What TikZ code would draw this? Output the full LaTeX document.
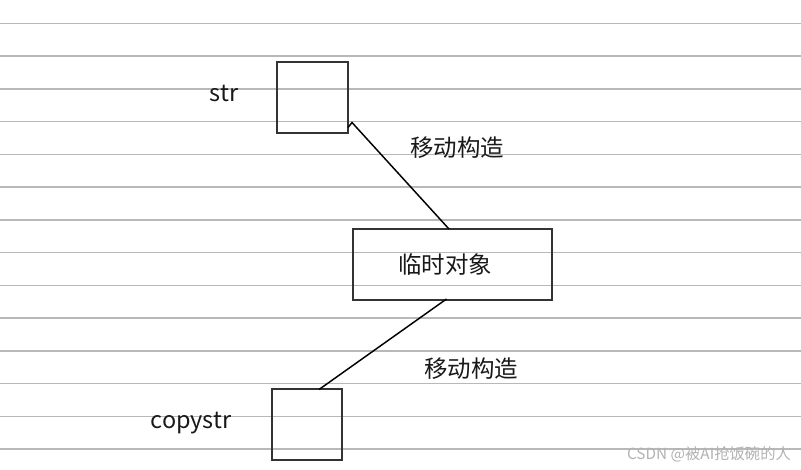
\documentclass[tikz,border=0pt]{standalone}
\usepackage{fontspec}
\setmainfont{Noto Sans CJK SC}
\usetikzlibrary{calc}
\begin{document}
\begin{tikzpicture}[x=0.75pt,y=-0.75pt,
  rule/.style={draw=black!28, line width=1.1pt},
  box/.style={draw=black!80, line width=1.5pt, inner sep=0pt, outer sep=0pt},
  lbl/.style={font=\fontsize{17.6}{20}\selectfont, inner sep=0pt, text=black!90},
  conn/.style={draw=black, line width=1.1pt, line join=miter},
  wm/.style={font=\fontsize{11.5}{13}\selectfont, inner sep=0pt, text=black!30}]
\useasboundingbox (0,0) rectangle (801,469);
\fill[white] (0,0) rectangle (801,469);
\foreach \k in {0,...,13} \draw[rule] (0,{23.3+32.75*\k}) -- (801,{23.3+32.75*\k});
% boxes
\node[box, minimum width=53.25pt, minimum height=53.25pt] (sb) at (312.5,97.5) {};
\node[box, minimum width=149.25pt, minimum height=53.25pt] (tb) at (452.5,264.5) {};
\node[box, minimum width=52.5pt, minimum height=53.25pt] (cb) at (307,424.5) {};
% labels
\node[lbl] (lstr) at (224,93) {str};
\node[lbl] (lcopy) at (191,423) {copystr};
\node[lbl] (ltmp) at (445,265) {临时对象};
\node[lbl] (lm1) at (457,148) {移动构造};
\node[lbl] (lm2) at (471,369) {移动构造};
\node[wm] (wmk) at (709,454) {CSDN @被AI抢饭碗的人};
% connectors
\draw[conn] ($(sb.south east)+(0,-5.5)$) -- ($(sb.south east)+(4,-10.5)$) -- ($(tb.north)+(-3.5,0)$);
\draw[conn] ($(tb.south)+(-6,-1)$) -- ($(cb.north)+(12,0.5)$);
\end{tikzpicture}
\end{document}
